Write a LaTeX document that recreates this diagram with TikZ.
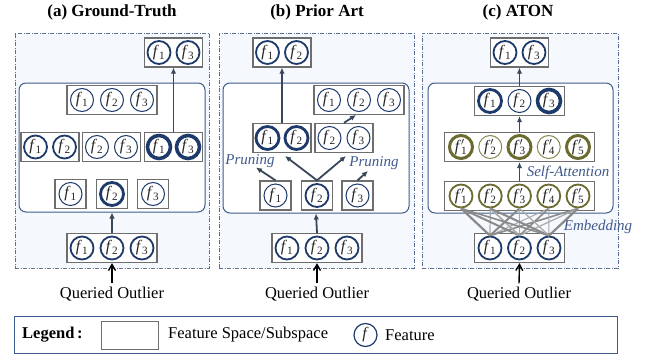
\documentclass[tikz,border=0pt]{standalone}
\usepackage{fontspec}
\setmainfont{Liberation Serif}
\usetikzlibrary{arrows.meta,calc}
\definecolor{navy}{HTML}{1E3A6B}
\definecolor{olive}{HTML}{6B6B30}
\definecolor{olivel}{HTML}{8A8A55}
\definecolor{panelfill}{HTML}{F5F8FD}
\definecolor{panelc}{HTML}{5A6E96}
\definecolor{innerc}{HTML}{3E5C8C}
\definecolor{boxc}{HTML}{6E6E6E}
\definecolor{arrc}{HTML}{3A475A}
\definecolor{labc}{HTML}{3F5A8C}
\definecolor{embd}{HTML}{8A8A8A}
\definecolor{embl}{HTML}{A8A8A8}
\newcommand\fe[1]{\textit{f}\textsubscript{#1}}
\newcommand\fq[1]{\textit{f}\rlap{$'$}\textsubscript{#1}}
\begin{document}
\begin{tikzpicture}[x=1pt,y=-1pt,
 panel/.style={draw=panelc, fill=panelfill, line width=0.9pt, dash pattern=on 4pt off 1.5pt on 1pt off 1.5pt, inner sep=0pt},
 innerbox/.style={draw=innerc, fill=white, line width=1pt, rounded corners=7pt, inner sep=0pt},
 fbox/.style={draw=boxc, fill=white, line width=1.3pt, minimum height=29pt, inner sep=0pt},
 feat/.style={circle, draw=navy, line width=1pt, minimum size=23pt, inner sep=0pt, text=black!85, font=\fontsize{16}{16}\selectfont},
 fmed/.style={feat, line width=1.8pt},
 fthk/.style={feat, line width=2.8pt},
 fvthk/.style={feat, line width=3.6pt},
 oth/.style={feat, draw=olivel, line width=1pt},
 omed/.style={feat, draw=olive, line width=1.8pt},
 othk/.style={feat, draw=olive, line width=3pt},
 arr/.style={draw=arrc, line width=1.8pt, -{Latex[length=6pt,width=5.5pt]}},
 qarr/.style={draw=black, line width=1.4pt, -{Straight Barb[length=6pt,width=7pt]}},
 ttl/.style={font=\fontsize{17}{17}\selectfont\bfseries},
 qtext/.style={font=\fontsize{16.5}{16.5}\selectfont},
 ital/.style={font=\fontsize{15}{15}\selectfont\itshape, text=labc}
]
\useasboundingbox (0,0) rectangle (655,356);

% ---------------- (a) Ground-Truth ----------------
\node[ttl] (ta) at (112,12) {(a) Ground-Truth};
\node[panel, minimum width=194, minimum height=235] (pa) at (112,150.5) {};
\node[innerbox, minimum width=186, minimum height=129] (ia) at (112,147.5) {};
\node[fbox, minimum width=58] (a4) at (173.5,52.5) {};
\node[fmed] (a4c1) at (159,52.5) {\fe1};
\node[fmed] (a4c3) at (188,52.5) {\fe3};
\node[fbox, minimum width=90] (a3) at (112,100) {};
\node[feat] (a3c1) at (82,100) {\fe1};
\node[feat] (a3c2) at (112,100) {\fe2};
\node[feat] (a3c3) at (142,100) {\fe3};
\node[fbox, minimum width=58] (a21) at (50,147) {};
\node[fmed] (a21c1) at (35.5,147) {\fe1};
\node[fmed] (a21c2) at (64.5,147) {\fe2};
\node[fbox, minimum width=58] (a22) at (111.5,147) {};
\node[feat] (a22c2) at (97,147) {\fe2};
\node[feat] (a22c3) at (126,147) {\fe3};
\node[fbox, minimum width=58] (a23) at (173.5,147) {};
\node[fvthk] (a23c1) at (159,147) {\fe1};
\node[fvthk] (a23c3) at (188,147) {\fe3};
\node[fbox, minimum width=31] (a31) at (70.5,194) {};
\node[feat] (a31c) at (70.5,194) {\fe1};
\node[fbox, minimum width=31] (a32) at (112,194) {};
\node[fthk] (a32c) at (112,194) {\fe2};
\node[fbox, minimum width=31] (a33) at (153,194) {};
\node[feat] (a33c) at (153,194) {\fe3};
\node[fbox, minimum width=90] (a0) at (112,248) {};
\node[fmed] (a0c1) at (82,248) {\fe1};
\node[fmed] (a0c2) at (112,248) {\fe2};
\node[fmed] (a0c3) at (142,248) {\fe3};
\draw[arr] (a0.north) -- (ia.south);
\draw[arr] (a23.north) -- (a4.south);
\node[qtext] (qa) at (112,294) {Queried Outlier};
\draw[qarr] (qa.north) -- (a0.south);

% ---------------- (b) Prior Art ----------------
\node[ttl] (tb) at (317,12) {(b) Prior Art};
\node[panel, minimum width=195, minimum height=235] (pb) at (316.5,150.5) {};
\node[innerbox, minimum width=186, minimum height=130] (ib) at (316,148) {};
\node[fbox, minimum width=58] (b4) at (282,52.5) {};
\node[fmed] (b4c1) at (267.5,52.5) {\fe1};
\node[fmed] (b4c2) at (296.5,52.5) {\fe2};
\node[fbox, minimum width=90] (b3) at (359,100) {};
\node[feat] (b3c1) at (329,100) {\fe1};
\node[feat] (b3c2) at (359,100) {\fe2};
\node[feat] (b3c3) at (389,100) {\fe3};
\node[fbox, minimum width=58] (b21) at (282,138) {};
\node[fthk] (b21c1) at (267.5,138) {\fe1};
\node[fthk] (b21c2) at (296.5,138) {\fe2};
\node[fbox, minimum width=58] (b22) at (344,138) {};
\node[feat] (b22c2) at (329.5,138) {\fe2};
\node[feat] (b22c3) at (358.5,138) {\fe3};
\node[fbox, minimum width=31] (b31) at (275.5,195.5) {};
\node[feat] (b31c) at (275.5,195.5) {\fe1};
\node[fbox, minimum width=31] (b32) at (317,195.5) {};
\node[fmed] (b32c) at (317,195.5) {\fe2};
\node[fbox, minimum width=31] (b33) at (357.5,195.5) {};
\node[feat] (b33c) at (357.5,195.5) {\fe3};
\node[fbox, minimum width=90] (b0) at (317,248) {};
\node[fmed] (b0c1) at (287,248) {\fe1};
\node[fmed] (b0c2) at (317,248) {\fe2};
\node[fmed] (b0c3) at (347,248) {\fe3};
\coordinate (bt1) at (285,156);
\coordinate (bt2) at (346,156);
\coordinate (bt3) at (256,167.5);
\coordinate (bt4) at (368,171);
\coordinate (bt5) at (356,115);
\draw[arr] (b0.north) -- (ib.south);
\draw[arr] (b32.north) -- (bt1);
\draw[arr] (b32.north) -- (bt2);
\draw[arr] (b31.north) -- (bt3);
\draw[arr] (b33.north) -- (bt4);
\draw[arr] (b22.north) -- (bt5);
\draw[arr] (b21.north) -- (b4.south);
\node[ital] (pr1) at (250,161) {Pruning};
\node[ital] (pr2) at (374,163) {Pruning};
\node[qtext] (qb) at (317,294) {Queried Outlier};
\draw[qarr] (qb.north) -- (b0.south);

% ---------------- (c) ATON ----------------
\node[ttl] (tc) at (518,12) {(c) ATON};
\node[panel, minimum width=196, minimum height=235] (pc) at (520,150.5) {};
\node[innerbox, minimum width=185, minimum height=130] (ic) at (520.5,148) {};
\node[fbox, minimum width=58] (c4) at (519.5,52.5) {};
\node[fmed] (c4c1) at (505,52.5) {\fe1};
\node[fmed] (c4c3) at (534,52.5) {\fe3};
\node[fbox, minimum width=90] (c3) at (519.5,101) {};
\node[fthk] (c3c1) at (490,101) {\fe1};
\node[feat] (c3c2) at (519.5,101) {\fe2};
\node[fvthk] (c3c3) at (549,101) {\fe3};
\node[fbox, minimum width=150] (c2) at (519.5,147) {};
\node[othk] (c2c1) at (461,147) {\fq1};
\node[oth] (c2c2) at (490.25,147) {\fq2};
\node[othk] (c2c3) at (519.5,147) {\fq3};
\node[oth] (c2c4) at (548.75,147) {\fq4};
\node[othk] (c2c5) at (578,147) {\fq5};
\node[fbox, minimum width=150] (c1) at (519.5,196) {};
\node[omed] (cr1) at (461,196) {\fq1};
\node[omed] (cr2) at (490.25,196) {\fq2};
\node[omed] (cr3) at (519.5,196) {\fq3};
\node[omed] (cr4) at (548.75,196) {\fq4};
\node[omed] (cr5) at (578,196) {\fq5};
\node[fbox, minimum width=90] (c0) at (519.5,248) {};
\node[fmed] (cb1) at (490,248) {\fe1};
\node[fmed] (cb2) at (519.5,248) {\fe2};
\node[fmed] (cb3) at (549,248) {\fe3};
\foreach \i/\j/\w/\c in {1/1/2.2/embd,1/2/1.2/embl,1/3/2.0/embd,1/4/1.0/embl,1/5/1.6/embd,
                          2/1/2.0/embd,2/2/1.6/embl,2/3/1.0/embl,2/4/1.6/embd,2/5/1.2/embl,
                          3/1/1.6/embd,3/2/2.0/embd,3/3/1.2/embl,3/4/1.0/embl,3/5/2.2/embd}
  \draw[draw=\c, line width=\w pt] (cb\i.north) -- (cr\j.south);
\draw[arr] (c1.north) -- (c2.south);
\draw[arr] (c2.north) -- (c3.south);
\draw[arr] (c3.north) -- (c4.south);
\node[ital] (sa) at (568,173) {Self-Attention};
\node[ital] (emb) at (598,227) {Embedding};
\node[qtext] (qc) at (519,294) {Queried Outlier};
\draw[qarr] (qc.north) -- (c0.south);

% ---------------- Legend ----------------
\node[draw=innerc, line width=1pt, minimum width=603, minimum height=37, inner sep=0pt] (lg) at (315.5,334.5) {};
\node[font=\fontsize{16.5}{16.5}\selectfont\bfseries, anchor=west, inner sep=0pt] (lgt) at (22,335) {Legend\,:};
\node[draw=boxc, line width=1pt, minimum width=57, minimum height=28, inner sep=0pt] (lgs) at (129.5,335) {};
\node[qtext, anchor=west, inner sep=0pt] (lgst) at (168,335) {Feature Space/Subspace};
\node[feat, line width=1.2pt] (lgc) at (365.5,335) {\textit{f}};
\node[qtext, anchor=west, inner sep=0pt] (lgft) at (385,335) {Feature};
\end{tikzpicture}
\end{document}
